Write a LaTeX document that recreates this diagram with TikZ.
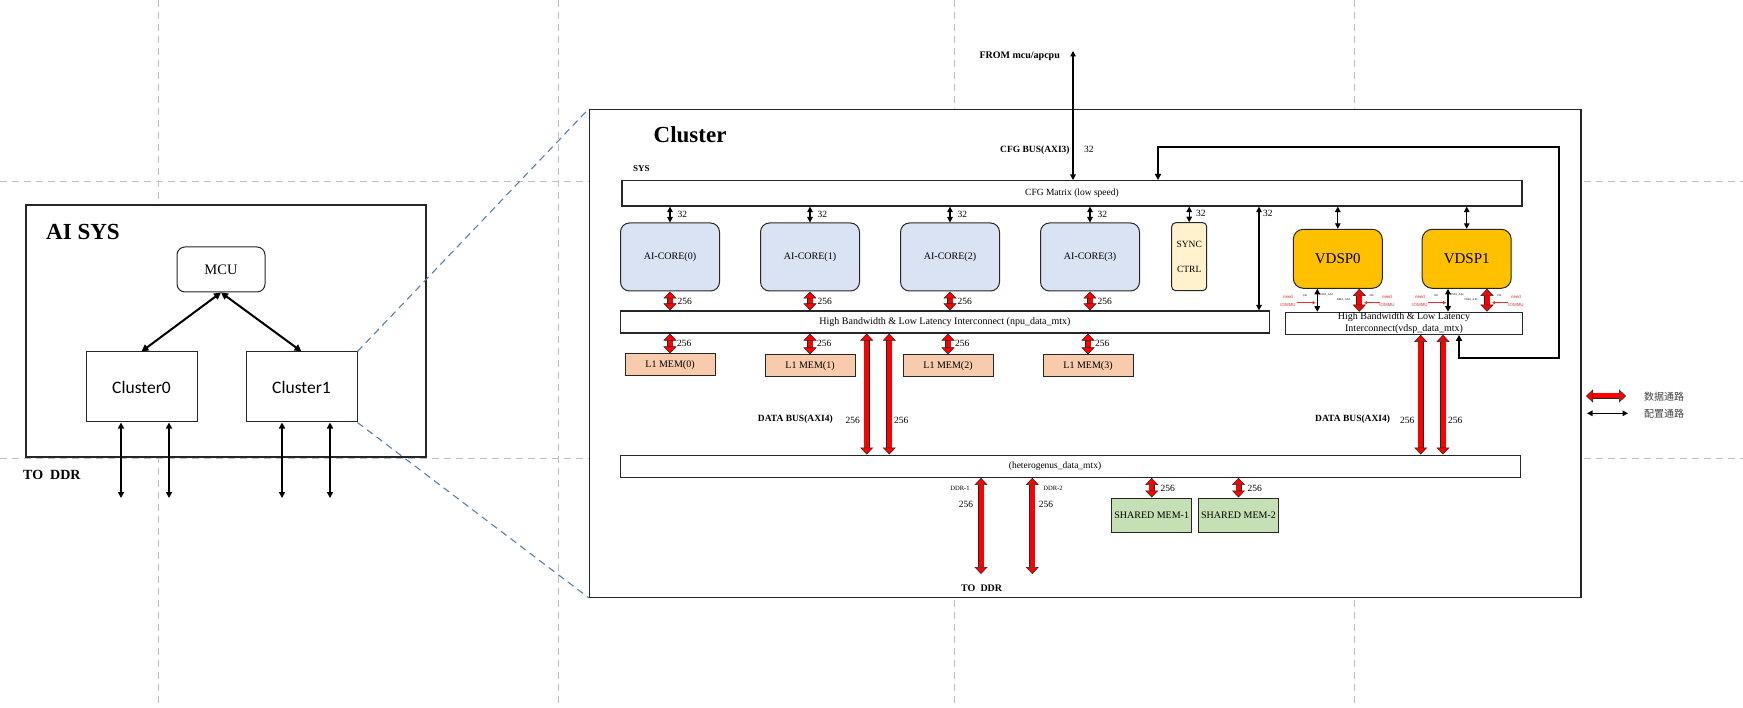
\documentclass[tikz,border=0pt]{standalone}
\usepackage{fontspec}
\setmainfont{Liberation Serif}
\newfontfamily\calibrifont{Carlito}
\newfontfamily\arialfont{Liberation Sans}
\newfontfamily\cjkfont{Noto Sans CJK SC}
\usetikzlibrary{arrows.meta}
\newcommand\fsz[1]{\fontsize{#1}{#1}\selectfont}
\definecolor{gridgray}{HTML}{BFBFBF}
\definecolor{zoomblue}{HTML}{5B7DAA}
\definecolor{edge}{HTML}{262626}
\definecolor{corefill}{HTML}{DAE3F3}
\definecolor{syncfill}{HTML}{FFF2CC}
\definecolor{vdspfill}{HTML}{FFC000}
\definecolor{memfill}{HTML}{F8CBAD}
\definecolor{shmfill}{HTML}{C5E0B4}
\definecolor{iommured}{HTML}{E03030}
\tikzset{
  gridline/.style={draw=gridgray, line width=0.9pt, dash pattern=on 7pt off 5pt},
  zoomline/.style={draw=zoomblue, line width=1.1pt, dash pattern=on 7pt off 5pt},
  outerframe/.style={draw=edge, fill=white, line width=1.3pt, inner sep=0pt},
  bus/.style={draw=edge, fill=white, line width=1.1pt, inner sep=0pt},
  clusterblk/.style={draw=edge, fill=white, line width=1pt, minimum width=111pt, minimum height=70pt, font=\calibrifont\fsz{17.5}},
  coreblk/.style={draw=edge, fill=corefill, line width=1pt, rounded corners=9pt, minimum width=99pt, minimum height=68pt, font=\fsz{10}},
  memblk/.style={draw=edge, fill=memfill, line width=1pt, minimum width=90pt, minimum height=22pt, inner sep=0pt, font=\fsz{10}},
  shmblk/.style={draw=edge, fill=shmfill, line width=1pt, minimum width=80pt, minimum height=34pt, inner sep=0pt, font=\fsz{10}},
  dspblk/.style={draw=edge, fill=vdspfill, line width=1pt, rounded corners=10pt, minimum width=89pt, minimum height=59pt, font=\fsz{15}},
  lbl/.style={inner sep=0pt, font=\fsz{9.5}},
  blbl/.style={inner sep=0pt, font=\fsz{9.5}\bfseries},
  microlbl/.style={inner sep=0pt, font=\fsz{2.8}},
  iommu/.style={inner sep=0pt, text=iommured, align=center, font=\arialfont\fontsize{4.4}{7.7}\selectfont},
  cfgpath/.style={draw=black, line width=1.2pt, {Triangle[length=5.5pt,width=5.5pt]}-{Triangle[length=5.5pt,width=5.5pt]}},
  ctrlpath/.style={draw=black, line width=2pt, {Triangle[length=7pt,width=7pt]}-{Triangle[length=7pt,width=7pt]}},
  ddrpath/.style={draw=black, line width=1.6pt, {Triangle[length=6pt,width=6pt]}-{Triangle[length=6pt,width=6pt]}},
  looppath/.style={draw=black, line width=2.2pt, {Triangle[length=6pt,width=6pt]}-{Triangle[length=6pt,width=6pt]}},
  datapath/.style={draw=edge, double=red, double distance=5pt, line width=0.5pt, {Triangle[length=7pt,width=13pt,fill=red,line width=0.5pt]}-{Triangle[length=7pt,width=13pt,fill=red,line width=0.5pt]}},
  hint/.style={draw=iommured, line width=0.7pt, -{Triangle[length=3pt,width=3pt]}},
}
\begin{document}
\begin{tikzpicture}[x=1pt,y=-1pt]
\useasboundingbox (0,0) rectangle (1743,708);
\draw[gridline] (158,0) -- (158,708);
\draw[gridline] (558,0) -- (558,708);
\draw[gridline] (954,0) -- (954,708);
\draw[gridline] (1354,0) -- (1354,708);
\draw[gridline] (0,181) -- (1743,181);
\draw[gridline] (0,458) -- (1743,458);

\node[outerframe, minimum width=400pt, minimum height=252pt] (aisys) at (226,331) {};
\node[inner sep=0pt, anchor=base west, font=\fsz{23}\bfseries] (aisystitle) at (46,240) {AI SYS};
\node[draw=edge, fill=white, line width=1pt, rounded corners=8pt, minimum width=88pt, minimum height=45pt, font=\fsz{14.5}] (mcu) at (221,269.5) {MCU};
\node[clusterblk] (cluster0) at (141.5,387) {Cluster0};
\node[clusterblk] (cluster1) at (301.5,387) {Cluster1};
\node[inner sep=0pt, anchor=base west, font=\fsz{14}\bfseries] (toddrleft) at (23,479) {TO\ \ DDR};
\draw[ctrlpath] (mcu.south) -- (cluster0.north);
\draw[ctrlpath] (mcu.south) -- (cluster1.north);
\coordinate (ddrA) at (121,498);
\coordinate (ddrB) at (169,498);
\coordinate (ddrC) at (282,498);
\coordinate (ddrD) at (330,498);
\draw[ddrpath] (cluster0.south -| ddrA) -- (ddrA);
\draw[ddrpath] (cluster0.south -| ddrB) -- (ddrB);
\draw[ddrpath] (cluster1.south -| ddrC) -- (ddrC);
\draw[ddrpath] (cluster1.south -| ddrD) -- (ddrD);

\node[outerframe, minimum width=991.4pt, minimum height=488pt] (cluster) at (1085.3,353.3) {};
\draw[zoomline] (cluster1.north east) -- (cluster.north west);
\draw[zoomline] (cluster1.south east) -- (cluster.south west);
\node[inner sep=0pt, anchor=base west, font=\fsz{23}\bfseries] (clustertitle) at (653.5,142.7) {Cluster};
\node[blbl, anchor=base west, font=\fsz{9}\bfseries] (systitle) at (633,171.7) {SYS};
\node[bus, minimum width=900pt, minimum height=25.5pt, font=\fsz{9.5}] (cfgmtx) at (1072,193.3) {CFG Matrix (low speed)};
\node[blbl, anchor=base east, font=\fsz{10}\bfseries] (fromtxt) at (1060,59) {FROM mcu/apcpu};
\node[blbl, anchor=base west] (cfgbus) at (1000,153) {CFG BUS(AXI3)};
\node[lbl, anchor=base west] (cfgbusw) at (1084,153) {32};

\node[coreblk] (core0) at (670,257) {AI-CORE(0)};
\node[coreblk] (core1) at (810,257) {AI-CORE(1)};
\node[coreblk] (core2) at (950,257) {AI-CORE(2)};
\node[coreblk] (core3) at (1090,257) {AI-CORE(3)};
\node[draw=edge, fill=syncfill, line width=1pt, rounded corners=4pt, minimum width=35pt, minimum height=68pt, inner sep=0pt, align=center, font=\fontsize{9.5}{25}\selectfont] (sync) at (1189.2,256.7) {SYNC\\CTRL};
\node[bus, minimum width=649pt, minimum height=22pt, font=\fsz{10}] (npumtx) at (945,322) {High Bandwidth \& Low Latency Interconnect (npu\_data\_mtx)};
\node[memblk] (mem0) at (670,365) {L1 MEM(0)};
\node[memblk] (mem1) at (810,366) {L1 MEM(1)};
\node[memblk] (mem2) at (948,366) {L1 MEM(2)};
\node[memblk] (mem3) at (1088,366) {L1 MEM(3)};
\node[bus, minimum width=900pt, minimum height=22.3pt] (hetmtx) at (1070.7,466.2) {};
\node[lbl] (hettxt) at (1055,466) {(heterogenus\_data\_mtx)};
\node[shmblk] (shm1) at (1151.7,515) {SHARED MEM-1};
\node[shmblk] (shm2) at (1238.5,515) {SHARED MEM-2};
\node[dspblk] (vdsp0) at (1337.8,258.8) {VDSP0};
\node[dspblk] (vdsp1) at (1466.7,258.8) {VDSP1};
\node[bus, minimum width=236.6pt, minimum height=22pt, align=center, font=\fontsize{10}{11.6}\selectfont] (vdspmtx) at (1404,323.3) {High Bandwidth \& Low Latency\\Interconnect(vdsp\_data\_mtx)};

\coordinate (cfgsrc) at (1073,51);
\draw[cfgpath] (cfgsrc) -- (cfgmtx.north -| cfgsrc);
\draw[cfgpath] (cfgmtx.south -| core0) -- (core0.north);
\draw[cfgpath] (cfgmtx.south -| core1) -- (core1.north);
\draw[cfgpath] (cfgmtx.south -| core2) -- (core2.north);
\draw[cfgpath] (cfgmtx.south -| core3) -- (core3.north);
\draw[cfgpath] (cfgmtx.south -| sync) -- (sync.north);
\coordinate (npucfg) at (1259,0);
\draw[cfgpath] (cfgmtx.south -| npucfg) -- (npumtx.north -| npucfg);
\node[lbl, anchor=west] (cw0) at (677.5,214) {32};
\node[lbl, anchor=west] (cw1) at (817.5,214) {32};
\node[lbl, anchor=west] (cw2) at (957.5,214) {32};
\node[lbl, anchor=west] (cw3) at (1097.5,214) {32};
\node[lbl, anchor=west] (cw4) at (1196,213) {32};
\node[lbl, anchor=west] (cw5) at (1263,213) {32};

\draw[datapath] (core0.south) -- (npumtx.north -| core0);
\draw[datapath] (core1.south) -- (npumtx.north -| core1);
\draw[datapath] (core2.south) -- (npumtx.north -| core2);
\draw[datapath] (core3.south) -- (npumtx.north -| core3);
\node[lbl, anchor=west] (dw0) at (677.5,301.7) {256};
\node[lbl, anchor=west] (dw1) at (817.5,301.7) {256};
\node[lbl, anchor=west] (dw2) at (957.5,301.7) {256};
\node[lbl, anchor=west] (dw3) at (1097.5,301.7) {256};
\draw[datapath] (npumtx.south -| mem0) -- (mem0.north);
\draw[datapath] (npumtx.south -| mem1) -- (mem1.north);
\draw[datapath] (npumtx.south -| mem2) -- (mem2.north);
\draw[datapath] (npumtx.south -| mem3) -- (mem3.north);
\node[lbl, anchor=west] (mw0) at (677,343.3) {256};
\node[lbl, anchor=west] (mw1) at (817,343.3) {256};
\node[lbl, anchor=west] (mw2) at (955,343.3) {256};
\node[lbl, anchor=west] (mw3) at (1095,343.3) {256};

\coordinate (busA) at (866.7,0);
\coordinate (busB) at (889.3,0);
\draw[datapath] (npumtx.south -| busA) -- (hetmtx.north -| busA);
\draw[datapath] (npumtx.south -| busB) -- (hetmtx.north -| busB);
\node[blbl, anchor=west] (dbusL) at (757.7,419) {DATA BUS(AXI4)};
\node[lbl, anchor=east] (dbusLa) at (860,420) {256};
\node[lbl, anchor=west] (dbusLb) at (894,420) {256};

\coordinate (ddrout1) at (981,574);
\coordinate (ddrout2) at (1032.3,574);
\draw[datapath] (hetmtx.south -| ddrout1) -- (ddrout1);
\draw[datapath] (hetmtx.south -| ddrout2) -- (ddrout2);
\node[lbl, font=\fsz{6.5}] (ddr1) at (960,488.7) {DDR-1};
\node[lbl, font=\fsz{6.5}] (ddr2) at (1053,488.7) {DDR-2};
\node[lbl] (ddrw1) at (966,504) {256};
\node[lbl] (ddrw2) at (1046,504) {256};
\node[blbl, font=\fsz{10}\bfseries] (toddr) at (981.7,588) {TO\ \ DDR};

\draw[datapath] (hetmtx.south -| shm1) -- (shm1.north);
\draw[datapath] (hetmtx.south -| shm2) -- (shm2.north);
\node[lbl, anchor=west] (sw1) at (1160.5,488) {256};
\node[lbl, anchor=west] (sw2) at (1247.5,488) {256};

\draw[cfgpath] (cfgmtx.south -| vdsp0) -- (vdsp0.north);
\draw[cfgpath] (cfgmtx.south -| vdsp1) -- (vdsp1.north);
\coordinate (v0cfg) at (1317.3,0);
\coordinate (v0dat) at (1359.3,0);
\coordinate (v1cfg) at (1448,0);
\coordinate (v1dat) at (1487,0);
\draw[cfgpath] (vdsp0.south -| v0cfg) -- (vdspmtx.north -| v0cfg);
\draw[datapath] (vdsp0.south -| v0dat) -- (vdspmtx.north -| v0dat);
\draw[cfgpath] (vdsp1.south -| v1cfg) -- (vdspmtx.north -| v1cfg);
\draw[datapath] (vdsp1.south -| v1dat) -- (vdspmtx.north -| v1dat);
\node[microlbl] (v0a) at (1305,296) {128};
\node[microlbl] (v0b) at (1326,295) {DATA\_AXI};
\node[microlbl] (v0c) at (1343.3,299.3) {DMA\_AXI};
\node[microlbl] (v0d) at (1371.5,296) {256};
\node[microlbl] (v1a) at (1435.7,296) {128};
\node[microlbl] (v1b) at (1456.7,295) {DATA\_AXI};
\node[microlbl] (v1c) at (1471,299.3) {DMA\_AXI};
\node[microlbl] (v1d) at (1499.2,296) {256};
\node[iommu] (v0n1) at (1288,301) {need\\IOMMU};
\node[iommu] (v0n2) at (1387,301) {need\\IOMMU};
\node[iommu] (v1n1) at (1420,301) {need\\IOMMU};
\node[iommu] (v1n2) at (1516,301) {need\\IOMMU};
\coordinate (h0as) at (1297,302.7);
\coordinate (h0ae) at (1315.5,302.7);
\coordinate (h0bs) at (1380,302.7);
\coordinate (h0be) at (1364,302.7);
\coordinate (h1as) at (1428,302.7);
\coordinate (h1ae) at (1446.2,302.7);
\coordinate (h1bs) at (1508,302.7);
\coordinate (h1be) at (1492,302.7);
\draw[hint] (h0as) -- (h0ae);
\draw[hint] (h0bs) -- (h0be);
\draw[hint] (h1as) -- (h1ae);
\draw[hint] (h1bs) -- (h1be);

\coordinate (lpin) at (1459,358);
\coordinate (lpturn) at (1559,147);
\coordinate (lpout) at (1158,147);
\draw[looppath] (vdspmtx.south -| lpin) -- (lpin) -| (lpturn) -| (cfgmtx.north -| lpout);

\coordinate (busC) at (1420.7,0);
\coordinate (busD) at (1443,0);
\draw[datapath] (vdspmtx.south -| busC) -- (hetmtx.north -| busC);
\draw[datapath] (vdspmtx.south -| busD) -- (hetmtx.north -| busD);
\node[blbl, anchor=west] (dbusR) at (1315,419) {DATA BUS(AXI4)};
\node[lbl, anchor=west] (dbusRa) at (1400,420) {256};
\node[lbl, anchor=west] (dbusRb) at (1448,420) {256};

\coordinate (lgA) at (1586,396);
\coordinate (lgB) at (1626,396);
\coordinate (lgC) at (1587,413.3);
\coordinate (lgD) at (1628,413.3);
\draw[datapath] (lgA) -- (lgB);
\draw[cfgpath] (lgC) -- (lgD);
\node[inner sep=0pt, anchor=west, text=black!75, font=\cjkfont\fsz{10}] (lgdata) at (1644,397) {数据通路};
\node[inner sep=0pt, anchor=west, text=black!75, font=\cjkfont\fsz{10}] (lgcfg) at (1644,414) {配置通路};
\end{tikzpicture}
\end{document}
